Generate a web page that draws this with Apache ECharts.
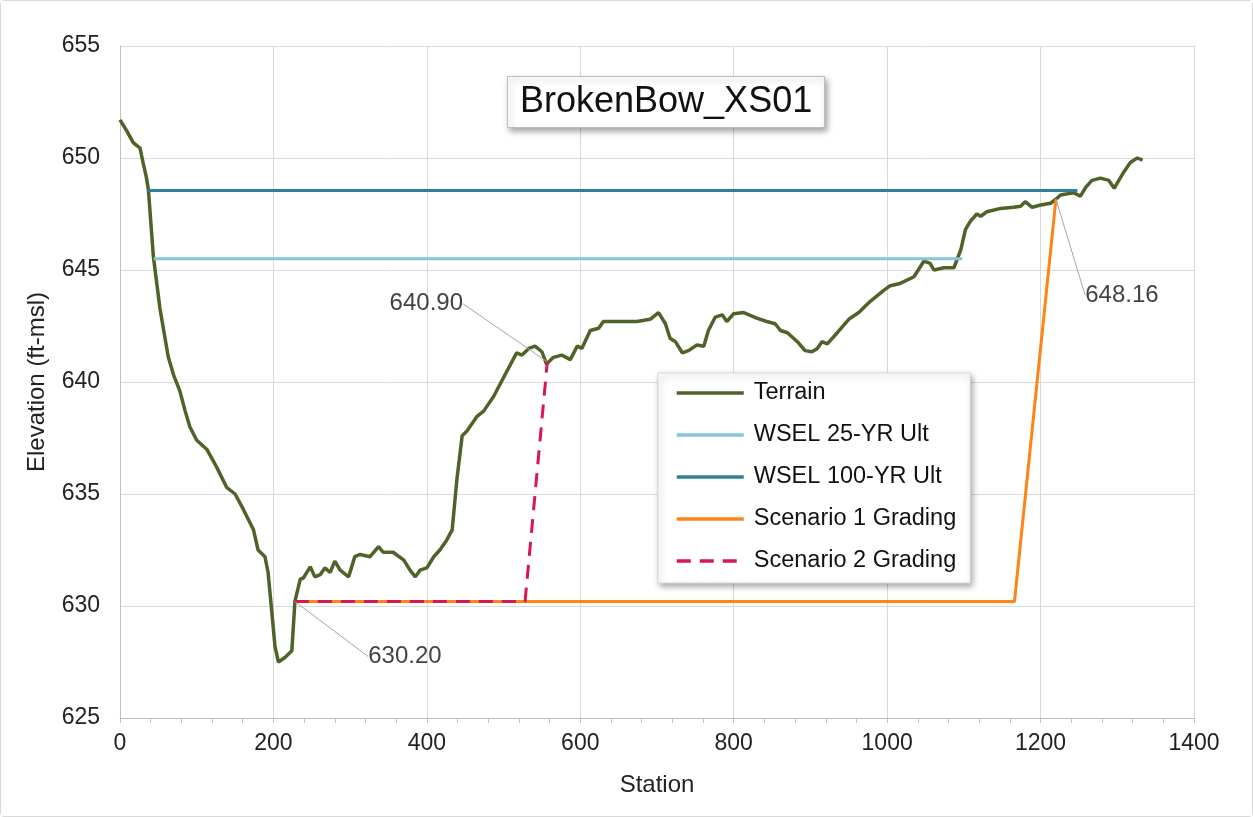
<!DOCTYPE html>
<html>
<head>
<meta charset="utf-8">
<script src="https://cdn.jsdelivr.net/npm/echarts@6/dist/echarts.min.js"></script>
<style>
  html, body { margin: 0; padding: 0; background: #fff; }
  #chart { width: 1251px; height: 815px; border: 1px solid #d9d9d9; border-radius: 4px; }
</style>
</head>
<body>
<div id="chart"></div>
<script>
// Cross-section BrokenBow_XS01: station (ft) vs elevation (ft-msl)
const terrainStation = [
  0, 9, 17, 22, 26, 30, 34, 37, 43.5, 52, 59, 63, 70, 78, 85, 91, 100, 113, 126, 139,
  150, 161, 174, 180, 189, 193, 198, 202, 206.5, 215, 224, 228, 235, 239, 248, 254, 261, 267, 274, 280,
  287, 298, 306, 313, 326, 337, 343, 356, 370, 378, 385, 391, 400, 409, 417, 426, 433, 439, 446, 452,
  459, 465, 474, 487, 500, 517, 524, 533, 541, 550, 556, 565, 576, 587, 596, 602, 613, 624, 630, 652,
  674, 691, 702, 711, 717, 724, 733, 741, 752, 761, 767, 776, 785, 791, 800, 813, 830, 843, 854, 861,
  870, 883, 893, 902, 909, 915, 922, 935, 950, 963, 978, 996, 1004, 1017, 1035, 1048, 1056, 1061, 1074, 1087,
  1091, 1096, 1102, 1109, 1117, 1122, 1130, 1148, 1165, 1174, 1180, 1189, 1200, 1213, 1220, 1226, 1235, 1243, 1252, 1259,
  1267, 1278, 1289, 1296, 1302, 1309, 1317, 1326, 1333
];
const terrainElev = [
  651.7, 651.2, 650.7, 650.55, 650.45, 649.8, 649.2, 648.6, 645.6, 643.3, 641.9, 641.1, 640.3, 639.6, 638.7, 638.0, 637.4, 637.0, 636.2, 635.3,
  635.0, 634.3, 633.4, 632.5, 632.2, 631.5, 629.7, 628.2, 627.5, 627.7, 628.0, 630.2, 631.2, 631.25, 631.75, 631.3, 631.4, 631.7, 631.5, 632.0,
  631.6, 631.3, 632.2, 632.3, 632.2, 632.65, 632.4, 632.4, 632.05, 631.6, 631.3, 631.6, 631.7, 632.2, 632.5, 632.95, 633.4, 635.6, 637.6, 637.8,
  638.15, 638.45, 638.7, 639.35, 640.2, 641.3, 641.2, 641.5, 641.6, 641.35, 640.8, 641.1, 641.2, 641.0, 641.6, 641.5, 642.3, 642.4, 642.7, 642.7,
  642.7, 642.8, 643.1, 642.6, 641.95, 641.8, 641.3, 641.4, 641.65, 641.6, 642.3, 642.9, 643.0, 642.7, 643.05, 643.1, 642.85, 642.7, 642.6, 642.3,
  642.2, 641.8, 641.4, 641.35, 641.5, 641.8, 641.7, 642.2, 642.8, 643.1, 643.6, 644.1, 644.3, 644.4, 644.7, 645.4, 645.3, 645.0, 645.1, 645.1,
  645.45, 645.9, 646.8, 647.2, 647.5, 647.4, 647.6, 647.75, 647.8, 647.85, 648.05, 647.8, 647.9, 647.98, 648.16, 648.35, 648.4, 648.45, 648.3, 648.7,
  649.0, 649.1, 649.0, 648.65, 649.0, 649.4, 649.8, 650.0, 649.9
];

// Water surface elevations (left edge, right edge)
const wsel25Station = [44, 1098];
const wsel25Elev = [645.5, 645.5];
const wsel100Station = [37, 1248];
const wsel100Elev = [648.55, 648.55];

// Grading scenarios
const scenario1Station = [228, 1166, 1220];
const scenario1Elev = [630.20, 630.20, 648.16];
const scenario2Station = [228, 528, 557];
const scenario2Elev = [630.20, 630.20, 640.90];

// Annotated grading points
const calloutStation = [scenario1Station[0], scenario2Station[2], scenario1Station[2]];
const calloutElev = [scenario1Elev[0], scenario2Elev[2], scenario1Elev[2]];

const xTicks = [0, 200, 400, 600, 800, 1000, 1200, 1400];
const yTicks = [625, 630, 635, 640, 645, 650, 655];

const pairs = (xs, ys) => xs.map((x, i) => [x, ys[i]]);
const FONT = "'Liberation Sans', Arial, sans-serif";

const chart = echarts.init(document.getElementById('chart'));
// offsets of the callout texts from their points
const calloutOffsets = [[110, 55], [-121, -58], [66, 96]];

chart.setOption({
  animation: false,
  backgroundColor: '#ffffff',
  textStyle: { fontFamily: FONT },
  title: {
    text: 'BrokenBow_XS01',
    left: 506, top: 75,
    padding: [5, 13],
    backgroundColor: '#ffffff',
    borderColor: '#bfbfbf', borderWidth: 1,
    shadowBlur: 6, shadowColor: 'rgba(0,0,0,0.35)', shadowOffsetX: 2, shadowOffsetY: 3,
    textStyle: { fontFamily: FONT, fontSize: 36, fontWeight: 'normal', color: '#111', lineHeight: 42 }
  },
  legend: {
    orient: 'vertical',
    left: 657, top: 372,
    padding: [8, 14, 10, 17],
    itemWidth: 67, itemHeight: 14, itemGap: 18,
    backgroundColor: '#ffffff',
    borderColor: '#d9d9d9', borderWidth: 1,
    shadowBlur: 6, shadowColor: 'rgba(0,0,0,0.35)', shadowOffsetX: 2, shadowOffsetY: 3,
    // line-only keys: hide the marker drawn on the key line
    itemStyle: { color: 'rgba(0,0,0,0)', borderWidth: 0, opacity: 0 },
    lineStyle: { width: 3.5 },
    textStyle: { fontFamily: FONT, fontSize: 23.5, lineHeight: 24, color: '#111', padding: [0, 0, 0, 5] },
    data: ['Terrain', 'WSEL 25-YR Ult', 'WSEL 100-YR Ult', 'Scenario 1 Grading', 'Scenario 2 Grading']
  },
  grid: { left: 119, right: 58, top: 45, bottom: 98, containLabel: false },
  xAxis: {
    type: 'value',
    min: xTicks[0], max: xTicks[xTicks.length - 1], interval: 200,
    name: 'Station', nameLocation: 'middle', nameGap: 55,
    nameTextStyle: { fontFamily: FONT, fontSize: 24, color: '#222' },
    axisLine: { show: true, lineStyle: { color: '#bfbfbf', width: 1 } },
    axisTick: { show: true, length: 5, lineStyle: { color: '#bfbfbf' } },
    minorTick: { show: true, splitNumber: 5, length: 5, lineStyle: { color: '#bfbfbf' } },
    axisLabel: { fontFamily: FONT, fontSize: 23, color: '#222', margin: 14, formatter: (v) => String(v) },
    splitLine: { show: true, lineStyle: { color: '#d9d9d9', width: 1 } }
  },
  yAxis: {
    type: 'value',
    min: yTicks[0], max: yTicks[yTicks.length - 1], interval: 5,
    name: 'Elevation (ft-msl)', nameLocation: 'middle', nameGap: 71,
    nameTextStyle: { fontFamily: FONT, fontSize: 24, color: '#222' },
    axisLine: { show: true, lineStyle: { color: '#bfbfbf', width: 1 } },
    axisTick: { show: false },
    axisLabel: { fontFamily: FONT, fontSize: 23, color: '#222', margin: 20, formatter: (v) => String(v) },
    splitLine: { show: true, lineStyle: { color: '#d9d9d9', width: 1 } }
  },
  series: [
    {
      name: 'Terrain', type: 'line', symbol: 'none',
      data: pairs(terrainStation, terrainElev),
      lineStyle: { color: '#4f6228', width: 3.5 }, itemStyle: { color: '#4f6228' }
    },
    {
      name: 'WSEL 25-YR Ult', type: 'line', symbol: 'none',
      data: pairs(wsel25Station, wsel25Elev),
      lineStyle: { color: '#86c5da', width: 3 }, itemStyle: { color: '#86c5da' }
    },
    {
      name: 'WSEL 100-YR Ult', type: 'line', symbol: 'none',
      data: pairs(wsel100Station, wsel100Elev),
      lineStyle: { color: '#31809a', width: 3 }, itemStyle: { color: '#31809a' }
    },
    {
      name: 'Scenario 1 Grading', type: 'line', symbol: 'none',
      data: pairs(scenario1Station, scenario1Elev),
      lineStyle: { color: '#ff8417', width: 3 }, itemStyle: { color: '#ff8417' }
    },
    {
      name: 'Scenario 2 Grading', type: 'line', symbol: 'none',
      data: pairs(scenario2Station, scenario2Elev),
      lineStyle: { color: '#d8174f', width: 3, type: [14, 9] }, itemStyle: { color: '#d8174f' }
    },
    {
      name: 'callouts', type: 'scatter', silent: true,
      symbolSize: 1,
      itemStyle: { color: 'rgba(0,0,0,0)' },
      data: pairs(calloutStation, calloutElev),
      label: {
        show: true, position: 'inside',
        fontFamily: FONT, fontSize: 24, color: '#111',
        formatter: (p) => p.value[1].toFixed(2)
      },
      labelLine: { show: true, lineStyle: { color: '#a6a6a6', width: 1 } },
      labelLayout: (p) => ({ dx: calloutOffsets[p.dataIndex][0], dy: calloutOffsets[p.dataIndex][1] }),
      z: 5
    }
  ]
});
</script>
</body>
</html>
